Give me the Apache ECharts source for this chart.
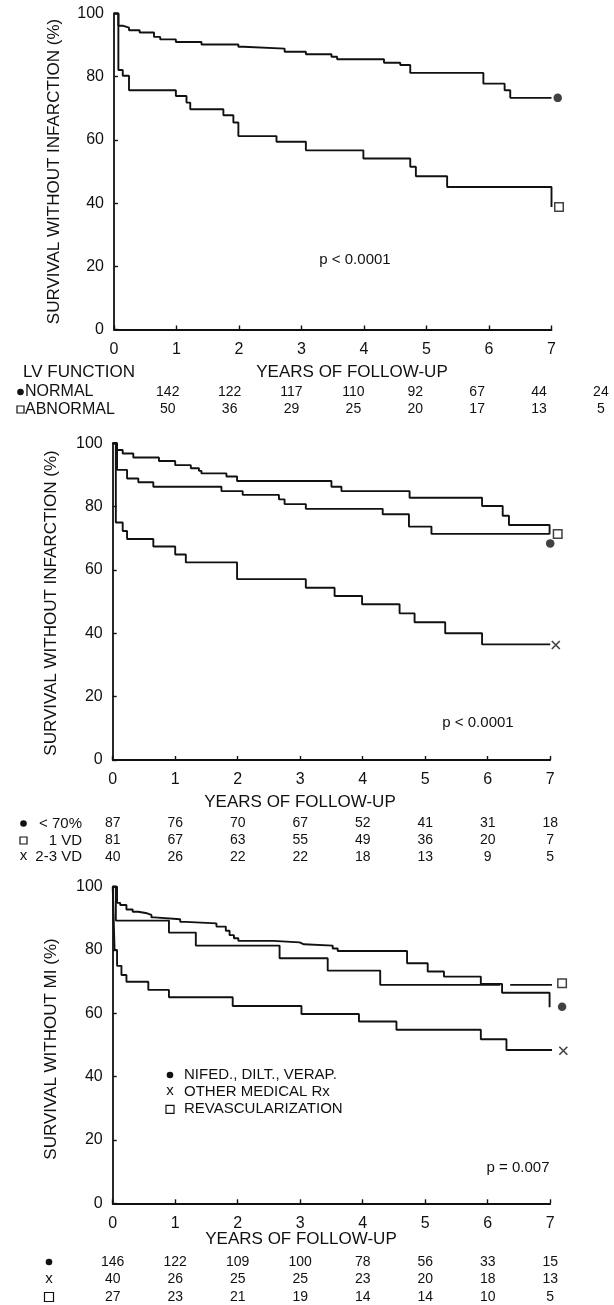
<!DOCTYPE html>
<html><head><meta charset="utf-8">
<script src="https://cdn.jsdelivr.net/npm/echarts@6/dist/echarts.min.js"></script>
<style>html,body{margin:0;padding:0;background:#fff}#c{width:614px;height:1305px}</style>
</head><body><div id="c"></div>
<script>
// ---------- DATA ----------
const xTicks = [0,1,2,3,4,5,6,7];
const yTicks = [0,20,40,60,80,100];

// Panel 1 : LV function
const p1NormalT = [0,0.07,0.15,0.24,0.41,0.64,0.74,0.99,1.40,1.99,2.07,2.73,3.07,3.48,3.57,4.32,4.58,4.74,5.91,6.25,6.34,7.0];
const p1NormalS = [100,96.1,95.5,94.7,94.0,92.6,91.8,91.0,90.2,89.5,88.9,87.9,87.1,86.3,85.5,84.4,83.7,81.2,77.8,75.7,73.3,73.3];
const p1AbnT = [0,0.07,0.14,0.24,0.99,1.16,1.22,1.75,1.91,1.99,2.60,3.07,3.99,4.74,4.83,5.33,7.0];
const p1AbnS = [100,82.1,80.3,75.7,73.9,71.8,69.7,67.8,65.5,61.2,59.4,56.7,54.1,51.5,48.5,45.1,38.8];
const p1NormalEnd = [7.10, 73.3];
const p1AbnEnd = [7.12, 38.8];
const p1RowLabels = ['NORMAL','ABNORMAL'];
const p1NormalN = [142,122,117,110,92,67,44,24];
const p1AbnN = [50,36,29,25,20,17,13,5];

// Panel 2 : stenosis groups
const p2OneVdT = [0,0.07,0.16,0.33,0.74,1.0,1.25,1.38,1.42,1.82,1.99,3.50,3.66,4.75,5.91,6.24,6.34,6.99];
const p2OneVdS = [100,97.9,96.8,95.5,94.4,93.1,92.1,91.3,90.5,89.5,88.1,86.3,84.9,82.8,80.2,77.1,74.2,71.3];
const p2Lt70T = [0,0.07,0.23,0.41,0.65,1.74,2.08,2.66,2.75,3.09,4.32,4.74,5.10,6.99];
const p2Lt70S = [100,91.6,88.9,87.7,86.3,84.9,83.7,82.3,80.8,79.3,77.6,73.7,71.4,71.4];
const p2MultiT = [0,0.05,0.16,0.23,0.65,1.0,1.17,1.99,3.09,3.55,3.99,4.59,4.83,5.32,5.91,7.0];
const p2MultiS = [100,75.0,72.3,69.8,67.4,64.9,62.4,57.1,54.4,51.8,49.2,46.3,43.5,40.0,36.5,36.5];
const p2OneVdEnd = [7.12, 71.4];
const p2Lt70End = [7.0, 68.4];
const p2MultiEnd = [7.09, 36.3];
const p2RowLabels = ['< 70%','1 VD','2-3 VD'];
const p2Lt70N = [87,76,70,67,52,41,31,18];
const p2OneVdN = [81,67,63,55,49,36,20,7];
const p2MultiN = [40,26,22,22,18,13,9,5];

// Panel 3 : treatment
const p3NifedT = [0,0.07,0.12,0.22,0.32,0.41,0.55,0.62,0.67,1.08,1.17,1.66,1.81,1.87,1.94,2.01,2.57,2.99,3.06,3.52,3.60,4.71,5.04,5.30,5.89,6.23,6.99];
const p3NifedS = [100,94.9,94.2,92.8,92.1,91.6,91.1,90.3,89.7,88.9,88.4,87.4,86.1,84.7,83.7,82.9,82.4,81.8,81.4,80.5,79.7,75.8,73.2,71.6,69.3,66.5,61.9];
const p3OtherT = [0,0.03,0.07,0.14,0.22,0.57,0.90,1.92,3.02,3.94,4.54,5.89,6.30,7.07];
const p3OtherS = [100,80.0,75.0,72.1,70.0,67.4,65.1,62.3,59.8,57.4,54.8,51.8,48.4,48.4];
const p3RevascT = [0,0.05,0.90,1.33,2.67,3.44,4.28,6.08,6.20,6.36,7.08];
const p3RevascS = [100,89.3,85.5,81.4,77.4,73.5,69.0,69.0,null,69.0,69.0];
const p3NifedEnd = [7.19, 62.1];
const p3OtherEnd = [7.21, 48.2];
const p3RevascEnd = [7.19, 69.5];
const p3Legend = ['NIFED., DILT., VERAP.','OTHER MEDICAL Rx','REVASCULARIZATION'];
const p3NifedN = [146,122,109,100,78,56,33,15];
const p3OtherN = [40,26,25,25,23,20,18,13];
const p3RevascN = [27,23,21,19,14,14,10,5];

// ---------- CHART ----------
const FONT = '"Liberation Sans", Arial, Helvetica, sans-serif';
const INK = '#111';
const chart = echarts.init(document.getElementById('c'));

const grids = [
  {left:114, top:13.5, width:437.5, height:316},
  {left:112.7, top:443.3, width:437.5, height:316.7},
  {left:112.7, top:886.7, width:437.5, height:316.6}
];

function pairs(T,S){ return T.map((t,i)=>[t, S[i]==null ? '-' : S[i]]); }
function km(T,S,k){
  return {type:'line', step:'end', xAxisIndex:k, yAxisIndex:k, data:pairs(T,S),
    symbol:'none', clip:false, connectNulls:false, silent:true,
    lineStyle:{color:INK, width:1.9}};
}
function marker(kind, pt, k){
  const s = {type:'scatter', xAxisIndex:k, yAxisIndex:k, data:[pt], clip:false, silent:true, z:5};
  if(kind==='dot'){ s.symbol='circle'; s.symbolSize=8.5; s.itemStyle={color:INK}; }
  else if(kind==='sq'){ s.symbol='rect'; s.symbolSize=8.5; s.itemStyle={color:'#fff', borderColor:INK, borderWidth:1.5}; }
  else { s.symbol='path://M0,0L10,10M10,0L0,10'; s.symbolSize=[8,8]; s.itemStyle={color:'none', borderColor:INK, borderWidth:1.6}; }
  return s;
}

const xAxes = grids.map((g,k)=>({
  gridIndex:k, type:'value', min:xTicks[0], max:xTicks[xTicks.length-1], interval:1,
  axisLine:{show:true, onZero:false, lineStyle:{color:INK, width:1.8}},
  axisTick:{show:true, inside:true, length:4, lineStyle:{color:INK, width:1.4}},
  axisLabel:{color:INK, fontFamily:FONT, fontSize:16, margin:12},
  splitLine:{show:false}
}));
const yAxes = grids.map((g,k)=>({
  gridIndex:k, type:'value', min:yTicks[0], max:yTicks[yTicks.length-1], interval:20,
  axisLine:{show:true, onZero:false, lineStyle:{color:INK, width:1.8}},
  axisTick:{show:true, inside:true, length:4, lineStyle:{color:INK, width:1.4}},
  axisLabel:{color:INK, fontFamily:FONT, fontSize:16, margin:10},
  splitLine:{show:false}
}));

chart.setOption({
  animation:false,
  backgroundColor:'#fff',
  grid:grids,
  xAxis:xAxes,
  yAxis:yAxes,
  series:[
    km(p1NormalT,p1NormalS,0), km(p1AbnT,p1AbnS,0),
    marker('dot',p1NormalEnd,0), marker('sq',p1AbnEnd,0),
    km(p2OneVdT,p2OneVdS,1), km(p2Lt70T,p2Lt70S,1), km(p2MultiT,p2MultiS,1),
    marker('sq',p2OneVdEnd,1), marker('dot',p2Lt70End,1), marker('x',p2MultiEnd,1),
    km(p3NifedT,p3NifedS,2), km(p3OtherT,p3OtherS,2), km(p3RevascT,p3RevascS,2),
    marker('dot',p3NifedEnd,2), marker('x',p3OtherEnd,2), marker('sq',p3RevascEnd,2)
  ]
});

// ---------- ANNOTATIONS ----------
function px(k,t){ return chart.convertToPixel({xAxisIndex:k}, t); }
function txt(x,y,text,size,align,extra){
  return Object.assign({type:'text', x, y, silent:true, style:{text, font:size+'px '+FONT, fill:INK,
    textAlign:align||'center', textVerticalAlign:'middle', align:align||'center', verticalAlign:'middle'}}, extra||{});
}
function dot(x,y,r){ return {type:'circle', silent:true, shape:{cx:x, cy:y, r:r||3.3}, style:{fill:INK}}; }
function sq(x,y,s){ s=s||7; return {type:'rect', silent:true, shape:{x:x-s/2, y:y-s/2, width:s, height:s}, style:{fill:'#fff', stroke:INK, lineWidth:1.2}}; }

const g = [];
const ROT = Math.PI/2;
// Panel 1
g.push(txt(54,171.5,'SURVIVAL WITHOUT INFARCTION (%)',17,'center',{rotation:ROT}));
g.push(txt(355,260,'p < 0.0001',15));
g.push(txt(352,372,'YEARS OF FOLLOW-UP',17));
g.push(txt(23,372,'LV FUNCTION',17,'left'));
g.push(dot(20.5,392)); g.push(txt(25,392,p1RowLabels[0],16,'left'));
g.push(sq(20.5,409.5)); g.push(txt(25,409.5,p1RowLabels[1],16,'left'));
p1NormalN.forEach((n,i)=>g.push(txt(px(0,0.86+0.99*i),392,String(n),14)));
p1AbnN.forEach((n,i)=>g.push(txt(px(0,0.86+0.99*i),409.5,String(n),14)));
// Panel 2
g.push(txt(51,603,'SURVIVAL WITHOUT INFARCTION (%)',17,'center',{rotation:ROT}));
g.push(txt(478,723.3,'p < 0.0001',15));
g.push(txt(300,802,'YEARS OF FOLLOW-UP',17));
const p2Y = [823.5,840.5,857];
g.push(dot(23.5,p2Y[0])); g.push(sq(23.5,p2Y[1])); g.push(txt(23.5,p2Y[2]-1,'x',15));
p2RowLabels.forEach((l,j)=>g.push(txt(82,p2Y[j],l,15,'right')));
[p2Lt70N,p2OneVdN,p2MultiN].forEach((row,j)=>row.forEach((n,i)=>g.push(txt(px(1,xTicks[i]),p2Y[j],String(n),14))));
// Panel 3
g.push(txt(51,1049,'SURVIVAL WITHOUT MI (%)',17,'center',{rotation:ROT}));
const lgY = [1075,1092,1109.3];
g.push(dot(170,lgY[0])); g.push(txt(170,lgY[1]-1,'x',15)); g.push(sq(170,lgY[2],8));
p3Legend.forEach((l,j)=>g.push(txt(184,lgY[j],l,15,'left')));
g.push(txt(518,1168.3,'p = 0.007',15));
g.push(txt(301,1239,'YEARS OF FOLLOW-UP',17));
const p3Y = [1262,1279.5,1297];
g.push(dot(49,p3Y[0])); g.push(txt(49,p3Y[1]-1,'x',15)); g.push(sq(49,p3Y[2],9));
[p3NifedN,p3OtherN,p3RevascN].forEach((row,j)=>row.forEach((n,i)=>g.push(txt(px(2,xTicks[i]),p3Y[j],String(n),14))));

chart.setOption({graphic:{elements:g}});
</script></body></html>
